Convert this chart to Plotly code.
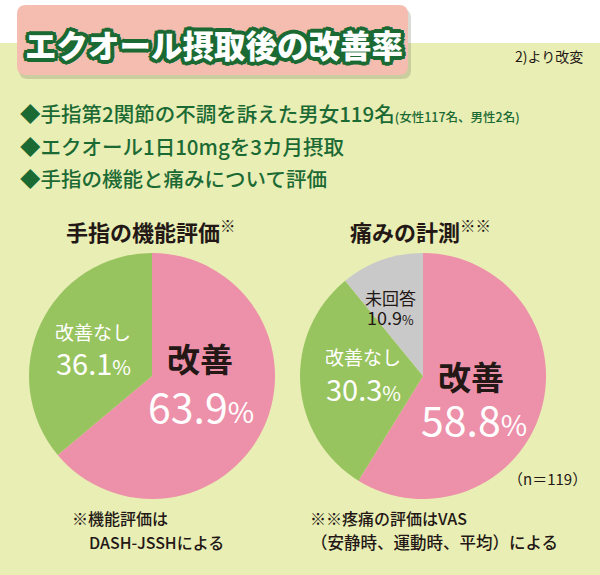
import plotly.graph_objects as go

# datos de los dos graficos de tarta
func_labels = ['改善', '改善なし']
func_values = [63.9, 36.1]
pain_labels = ['改善', '改善なし', '未回答']
pain_values = [58.8, 30.3, 10.9]

pink = '#ED90A9'
green = '#98C45F'
gray = '#C9C9C9'
dkgreen = '#1B6A34'
bg = '#E9EEB4'
JP = 'Noto Sans CJK JP'

W, H = 600, 575


def px_x(x):
    return x / W


def px_y(y):
    return 1 - y / H


fig = go.Figure()

fig.add_trace(go.Pie(labels=func_labels, values=func_values, sort=False,
                     direction='clockwise', rotation=0, textinfo='none',
                     marker=dict(colors=[pink, green], line=dict(width=0)),
                     domain=dict(x=[px_x(29), px_x(275)], y=[px_y(499), px_y(253)]),
                     showlegend=False, hoverinfo='label+percent'))
fig.add_trace(go.Pie(labels=pain_labels, values=pain_values, sort=False,
                     direction='clockwise', rotation=0, textinfo='none',
                     marker=dict(colors=[pink, green, gray], line=dict(width=0)),
                     domain=dict(x=[px_x(300), px_x(546)], y=[px_y(499), px_y(253)]),
                     showlegend=False, hoverinfo='label+percent'))


# caja del titulo con esquinas redondeadas
def rbox(x0, y0, x1, y1, r):
    return (f'M {x0 + r},{y0} L {x1 - r},{y0} Q {x1},{y0} {x1},{y0 + r} '
            f'L {x1},{y1 - r} Q {x1},{y1} {x1 - r},{y1} L {x0 + r},{y1} '
            f'Q {x0},{y1} {x0},{y1 - r} L {x0},{y0 + r} Q {x0},{y0} {x0 + r},{y0} Z')


shapes = [
    # banda blanca superior
    dict(type='rect', xref='paper', yref='paper', x0=0, x1=1, y0=px_y(43), y1=1,
         fillcolor='white', line=dict(width=0), layer='below'),
    dict(type='path', xref='x', yref='y', path=rbox(19, 9, 411, 79, 9),
         fillcolor='rgba(110,110,90,0.25)', line=dict(width=0), layer='below'),
    dict(type='path', xref='x', yref='y', path=rbox(17, 5, 408, 75, 9),
         fillcolor='#F5BDB0', line=dict(width=0), layer='below'),
]

outline = ', '.join(f'{dx}px {dy}px 0 {dkgreen}' for dx, dy in
                    [(-3, 0), (3, 0), (0, -3), (0, 3), (-2, -2), (2, 2), (-2, 2), (2, -2),
                     (3, 2), (-3, 2), (3, -2), (-3, -2), (2, 3), (-2, 3), (2, -3), (-2, -3),
                     (4, 0), (-4, 0), (0, 4), (0, -4), (3, 3), (-3, 3), (3, -3), (-3, -3)])

ann = []


def txt(x, y, text, size, color='#231815', weight='normal', xanchor='center', shadow=None):
    f = dict(family=JP, size=size, color=color, weight=weight)
    if shadow:
        f['shadow'] = shadow
    ann.append(dict(x=px_x(x), y=px_y(y), xref='paper', yref='paper', text=text,
                    showarrow=False, xanchor=xanchor, yanchor='middle', font=f))


txt(214, 44, 'エクオール摂取後の改善率', 31.5, 'white', 900, shadow=outline)
txt(585, 56, '2)より改変', 14, '#231815', 'normal', xanchor='right')

txt(18, 113, '◆手指第2関節の不調を訴えた男女119名<span style="font-size:12.5px">(女性117名、男性2名)</span>',
    20.5, dkgreen, 500, xanchor='left')
txt(18, 146, '◆エクオール1日10mgを3カ月摂取', 20.5, dkgreen, 500, xanchor='left')
txt(18, 178, '◆手指の機能と痛みについて評価', 20.5, dkgreen, 500, xanchor='left')

txt(150, 230, '手指の機能評価<sup style="font-size:11px">※</sup>', 22, '#231815', 'bold')
txt(420, 230, '痛みの計測<sup style="font-size:11px">※※</sup>', 22, '#231815', 'bold')


def pct(v):
    return f'{v}<span style="font-size:70%">%</span>'


txt(200, 358, func_labels[0], 33, '#231815', 'bold')
txt(201, 405, pct(func_values[0]), 41, 'white')
txt(93, 331, func_labels[1], 19, 'white')
txt(93, 362, pct(func_values[1]), 29, 'white')

txt(471, 376, pain_labels[0], 33, '#231815', 'bold')
txt(474, 418, pct(pain_values[0]), 41, 'white')
txt(363, 356, pain_labels[1], 19, 'white')
txt(363, 388, pct(pain_values[1]), 29, 'white')
txt(391, 297, pain_labels[2], 17, '#231815')
txt(390, 317, pct(pain_values[2]), 18, '#231815')

txt(547, 478, '（n＝119）', 15, '#231815')

txt(70, 518, '※機能評価は', 16, '#231815', 500, xanchor='left')
txt(87, 542, 'DASH-JSSHによる', 16, '#231815', 500, xanchor='left')
txt(308, 518, '※※疼痛の評価はVAS', 16, '#231815', 500, xanchor='left')
txt(309, 542, '（安静時、運動時、平均）による', 16.5, '#231815', 500, xanchor='left')

fig.update_layout(
    width=W, height=H, margin=dict(l=0, r=0, t=0, b=0),
    paper_bgcolor=bg, plot_bgcolor='rgba(0,0,0,0)',
    xaxis=dict(range=[0, W], visible=False, fixedrange=True),
    yaxis=dict(range=[H, 0], visible=False, fixedrange=True),
    shapes=shapes, annotations=ann,
)

# quitar el margen del body para que la figura quede en la esquina
fig.write_html('out.html', config={'displayModeBar': False},
               post_script="document.body.style.margin='0';")
